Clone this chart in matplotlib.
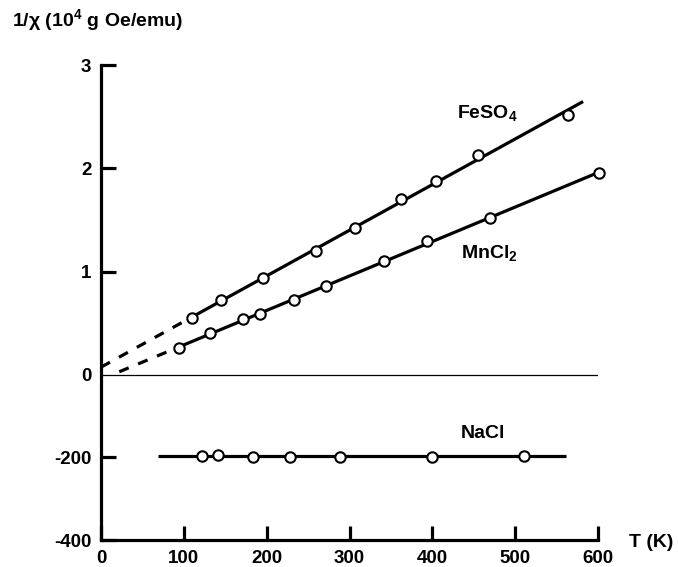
import numpy as np
import matplotlib
matplotlib.use("Agg")
import matplotlib.pyplot as plt

plt.rcParams.update({
    "font.family": ["Liberation Sans", "DejaVu Sans"],
    "font.weight": "bold",
    "mathtext.fontset": "custom",
    "mathtext.rm": "Liberation Sans:bold",
    "mathtext.bf": "Liberation Sans:bold",
    "mathtext.it": "Liberation Sans",
})

# ---- data
T_fe = [110, 145, 196, 260, 307, 362, 405, 455, 564]
v_fe = [0.55, 0.72, 0.94, 1.20, 1.42, 1.70, 1.88, 2.13, 2.52]     # 10^4 g Oe/emu
T_mn = [94, 132, 171, 192, 233, 272, 342, 394, 470, 601]
v_mn = [0.26, 0.40, 0.54, 0.59, 0.72, 0.86, 1.10, 1.30, 1.52, 1.95]
T_na = [122, 141, 183, 228, 288, 400, 511]
v_na = [-196, -195, -199, -200, -200, -198, -196]                  # diamagnetic

# line extents (K): solid fit range and dashed extrapolation
fe_solid = [110, 582]
fe_dash = [0, 104]
mn_solid = [94, 601]
mn_dash = [22, 89]
na_line = [69, 561]

y_ticks = [3, 2, 1, 0, -200, -400]
x_ticks = [0, 100, 200, 300, 400, 500, 600]

NEG = 0.004   # the lower (negative) part of the axis is drawn on its own scale


def ypos(v):
    v = np.asarray(v, dtype=float)
    return np.where(v < 0, v * NEG, v)


fig = plt.figure(figsize=(6.78, 5.67), dpi=100)
ax = fig.add_axes([0.149, 0.0476, 0.733, 0.8377])

lw = 2.3
mk = dict(marker="o", ms=7.5, mfc="white", mec="black", mew=1.5, ls="none",
          zorder=4, clip_on=False)

# FeSO4
a, b = np.polyfit(T_fe, v_fe, 1)
t = np.array(fe_solid); ax.plot(t, a * t + b, color="black", lw=lw, solid_capstyle="butt")
t = np.array(fe_dash); ax.plot(t, a * t + b, color="black", lw=lw, ls=(0, (3.2, 3.2)))
ax.plot(T_fe, v_fe, **mk)

# MnCl2
a, b = np.polyfit(T_mn, v_mn, 1)
t = np.array(mn_solid); ax.plot(t, a * t + b, color="black", lw=lw, clip_on=False,
                                solid_capstyle="butt")
t = np.array(mn_dash); ax.plot(t, a * t + b, color="black", lw=lw, ls=(0, (3.2, 3.2)))
ax.plot(T_mn, v_mn, **mk)

# NaCl
ax.plot(na_line, ypos([np.mean(v_na)] * 2), color="black", lw=lw, solid_capstyle="butt")
ax.plot(T_na, ypos(v_na), **mk)

ax.axhline(0, color="black", lw=0.9, zorder=1)

fs = 14
ax.text(430, 2.535, r"FeSO$_\mathbf{4}$", fontsize=fs, va="center")
ax.text(435, 1.18, r"MnCl$_\mathbf{2}$", fontsize=fs, va="center")
ax.text(434, ypos(-143), "NaCl", fontsize=fs, va="center")
ax.text(664, ypos(-406), "T (K)", fontsize=fs, ha="center", va="center", clip_on=False)
fig.text(0.018, 0.965, r"1/$\chi$ (10$^{\mathbf{4}}$ g Oe/emu)", fontsize=fs,
         va="center")

ax.set_xlim(0, 600)
ax.set_ylim(-1.6, 3)
ax.set_yticks(ypos(y_ticks))
ax.set_yticklabels([str(v) for v in y_ticks])
ax.set_xticks(x_ticks)
ax.set_xticklabels([str(v) for v in x_ticks])
for s in ("top", "right"):
    ax.spines[s].set_visible(False)
for s in ("left", "bottom"):
    ax.spines[s].set_linewidth(2.3)
ax.tick_params(axis="both", direction="in", width=2.3, labelsize=13.5)
ax.tick_params(axis="y", length=11, pad=7)
ax.tick_params(axis="x", length=10, pad=7)
ax.yaxis.get_major_ticks()[3].tick1line.set_visible(False)

fig.savefig("out.png", dpi=100)
